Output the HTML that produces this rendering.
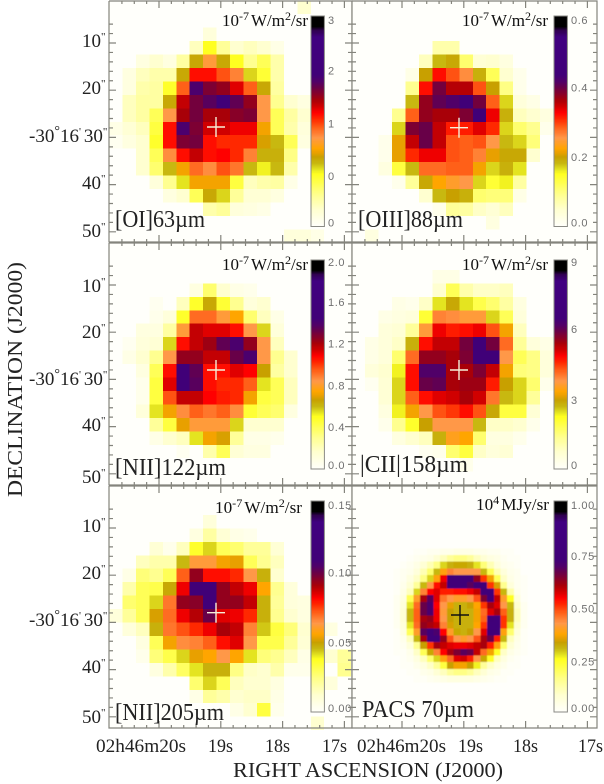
<!DOCTYPE html>
<html>
<head>
<meta charset="utf-8">
<title>Line and continuum maps</title>
<style>
html,body{margin:0;padding:0;background:#fff;width:604px;height:784px;overflow:hidden}
svg{display:block}
text{font-family:"Liberation Serif",serif;fill:#222}
.tick{font-size:19px}
.bar{font-family:"Liberation Sans",sans-serif;font-size:11px;fill:#707070;letter-spacing:.6px}
.unit{font-size:17px;fill:#111}
.name{font-size:24px;fill:#222}
.title{font-size:21px}
</style>
</head>
<body>
<svg id="chart" xmlns="http://www.w3.org/2000/svg" width="604" height="784" viewBox="0 0 604 784">
<defs><filter id="soft" x="-5%" y="-5%" width="110%" height="110%"><feGaussianBlur stdDeviation="0.6"/></filter></defs>
<rect x="0" y="0" width="604" height="784" fill="#ffffff"/>
<g id="maps"></g>

<g>
<text class="tick" x="82" y="47">10<tspan dy="-7" font-size="11">"</tspan></text>
<text class="tick" x="82" y="94">20<tspan dy="-7" font-size="11">"</tspan></text>
<text class="tick" x="29" y="142">-30<tspan dy="-7" font-size="14">°</tspan><tspan dy="7">16</tspan><tspan dy="-7" font-size="11">'</tspan><tspan dy="7" dx="3">30</tspan><tspan dy="-7" font-size="11">"</tspan></text>
<text class="tick" x="82" y="189">40<tspan dy="-7" font-size="11">"</tspan></text>
<text class="tick" x="82" y="237">50<tspan dy="-7" font-size="11">"</tspan></text>

<text class="tick" x="82" y="292">10<tspan dy="-7" font-size="11">"</tspan></text>
<text class="tick" x="82" y="338">20<tspan dy="-7" font-size="11">"</tspan></text>
<text class="tick" x="29" y="385">-30<tspan dy="-7" font-size="14">°</tspan><tspan dy="7">16</tspan><tspan dy="-7" font-size="11">'</tspan><tspan dy="7" dx="3">30</tspan><tspan dy="-7" font-size="11">"</tspan></text>
<text class="tick" x="82" y="431">40<tspan dy="-7" font-size="11">"</tspan></text>
<text class="tick" x="82" y="483">50<tspan dy="-7" font-size="11">"</tspan></text>

<text class="tick" x="82" y="532">10<tspan dy="-7" font-size="11">"</tspan></text>
<text class="tick" x="82" y="579">20<tspan dy="-7" font-size="11">"</tspan></text>
<text class="tick" x="29" y="626">-30<tspan dy="-7" font-size="14">°</tspan><tspan dy="7">16</tspan><tspan dy="-7" font-size="11">'</tspan><tspan dy="7" dx="3">30</tspan><tspan dy="-7" font-size="11">"</tspan></text>
<text class="tick" x="82" y="673">40<tspan dy="-7" font-size="11">"</tspan></text>
<text class="tick" x="82" y="723">50<tspan dy="-7" font-size="11">"</tspan></text>
</g>

<g>
<text class="tick" x="96" y="752" textLength="90" lengthAdjust="spacingAndGlyphs">02h46m20s</text>
<text class="tick" x="208" y="752" textLength="25" lengthAdjust="spacingAndGlyphs">19s</text>
<text class="tick" x="265" y="752" textLength="25" lengthAdjust="spacingAndGlyphs">18s</text>
<text class="tick" x="322" y="752" textLength="25" lengthAdjust="spacingAndGlyphs">17s</text>
<text class="tick" x="357" y="752" textLength="89" lengthAdjust="spacingAndGlyphs">02h46m20s</text>
<text class="tick" x="458" y="752" textLength="25" lengthAdjust="spacingAndGlyphs">19s</text>
<text class="tick" x="513" y="752" textLength="25" lengthAdjust="spacingAndGlyphs">18s</text>
<text class="tick" x="578" y="752" textLength="25" lengthAdjust="spacingAndGlyphs">17s</text>
</g>

<text class="title" x="233" y="777" textLength="270" lengthAdjust="spacingAndGlyphs">RIGHT ASCENSION (J2000)</text>
<text class="title" transform="translate(22 497) rotate(-90)" x="0" y="0" textLength="235" lengthAdjust="spacingAndGlyphs">DECLINATION (J2000)</text>
</svg>

<script>
const oiValues = [
[0,0,0,0,0,0,0,0,0,0,0,0,0,0,8,0,0,0],
[0,0,0,0,0,0,0,0,0,0,0,0,0,0,0,0,0,0],
[0,0,0,0,0,0,0,6,0,0,0,0,0,0,0,0,0,0],
[0,0,0,0,0,0,10,25,14,8,10,8,4,0,0,0,0,0],
[0,0,5,8,5,13,32,41,32,25,15,20,12,0,0,0,0,0],
[0,5,10,12,12,32,53,53,48,44,28,23,12,0,0,0,0,0],
[0,5,12,13,24,47,70,64,62,56,47,32,13,0,0,0,0,0],
[0,10,13,13,32,58,65,68,72,67,62,42,15,8,5,0,0,0],
[0,10,13,20,42,60,65,60,60,63,64,42,20,13,8,0,0,0],
[4,7,10,22,53,70,64,57,57,55,55,36,20,12,6,0,0,0],
[2,5,8,24,53,64,65,53,51,51,51,34,30,20,5,0,0,0],
[0,0,8,20,43,53,58,53,54,51,44,31,31,16,0,0,0,0],
[0,0,8,18,30,36,46,43,48,45,30,26,30,12,0,0,0,0],
[0,0,0,6,15,27,36,36,36,22,10,12,13,4,0,0,0,0],
[0,0,0,0,5,8,20,32,28,14,7,7,5,0,0,0,0,0],
[0,0,0,0,0,0,0,12,14,6,5,4,0,0,0,0,0,0],
[0,0,0,0,0,0,0,0,0,0,0,0,0,0,0,0,0,0],
[0,0,0,0,0,0,0,0,0,0,0,0,0,6,6,4,0,0]
];
const oiiiValues = [
[0,0,0,0,0,0,0,0,0,0,0,0,0,0,0,0,0,0],
[0,0,0,0,0,0,0,0,0,0,0,0,0,0,0,0,0,0],
[0,0,0,0,0,0,0,0,0,0,0,0,0,0,0,0,0,0],
[0,0,0,0,0,0,12,12,0,0,0,0,0,0,0,0,0,0],
[0,0,0,0,0,10,30,32,18,7,8,5,0,0,0,0,0,0],
[0,0,0,0,4,33,53,48,43,31,20,8,3,0,0,0,0,0],
[0,0,0,0,15,53,65,59,59,48,33,16,3,0,0,0,0,0],
[0,0,0,0,30,62,67,69,72,65,47,28,6,4,0,0,0,0],
[0,0,0,15,47,62,60,60,64,72,55,31,10,8,5,0,0,0],
[0,0,0,28,64,66,58,52,52,56,51,28,18,15,3,0,0,0],
[0,0,3,35,58,66,58,48,47,48,42,30,28,17,0,0,0,0],
[0,0,3,35,51,55,55,48,47,44,35,32,32,8,0,0,0,0],
[0,0,5,22,30,46,46,47,47,36,28,31,27,0,0,0,0,0],
[0,0,0,3,14,32,37,40,42,28,23,26,13,0,0,0,0,0],
[0,0,0,0,0,8,30,33,31,18,17,17,4,0,0,0,0,0],
[0,0,0,0,0,0,3,14,13,9,7,10,0,0,0,0,0,0],
[0,0,0,0,0,0,0,0,0,0,5,0,0,0,0,0,0,0],
[0,5,0,0,0,0,0,0,0,0,0,0,0,0,0,0,0,0]
];
const nii122Values = [
[0,0,0,0,0,0,0,0,0,0,0,0,0,0,0,0,0,0],
[0,0,0,0,0,0,0,0,0,0,0,0,0,0,0,0,0,0],
[0,0,0,0,0,0,0,0,0,0,0,0,0,0,0,0,0,0],
[0,0,0,0,0,0,5,18,8,4,3,0,0,0,0,0,0,0],
[0,0,0,2,0,10,24,32,23,15,6,8,0,0,0,0,0,0],
[0,0,0,3,6,24,46,46,41,37,18,10,4,0,0,0,0,0],
[0,0,5,5,13,41,58,56,56,53,42,28,6,0,0,0,0,0],
[0,2,6,7,28,53,58,61,67,70,62,42,10,0,0,0,0,0],
[0,4,8,15,42,62,62,58,58,66,70,42,15,8,0,0,0,0],
[0,0,5,20,53,72,67,53,53,56,54,33,13,8,0,0,0,0],
[0,0,3,22,56,72,68,53,51,51,47,27,20,10,0,0,0,0],
[0,0,3,22,48,58,58,54,52,51,36,22,20,10,0,0,0,0],
[0,0,6,27,36,43,47,45,47,43,23,20,18,5,0,0,0,0],
[0,0,0,14,22,35,41,41,41,28,8,8,8,0,0,0,0,0],
[0,0,0,4,8,10,27,36,34,14,4,4,3,0,0,0,0,0],
[0,0,0,0,0,2,0,12,20,7,5,5,0,0,0,0,0,0],
[0,0,0,0,0,0,0,0,0,0,0,0,0,0,0,0,0,0],
[0,0,0,0,0,0,0,0,0,0,0,0,0,0,0,0,0,0]
];
const ciiValues = [
[0,0,0,0,0,0,0,0,0,0,0,0,0,0,0,0,0,0],
[0,0,0,0,0,0,0,0,0,0,0,0,0,0,0,0,0,0],
[0,0,0,0,0,0,4,4,0,0,0,0,0,0,0,0,0,0],
[0,0,0,0,0,0,8,20,12,9,9,10,0,0,0,0,0,0],
[0,0,0,4,3,9,27,32,27,21,18,13,5,0,0,0,0,0],
[0,0,4,5,6,23,44,43,41,41,28,20,6,0,0,0,0,0],
[0,0,6,7,14,41,55,52,53,55,48,36,10,0,0,0,0,0],
[0,4,6,9,31,53,58,58,65,72,65,46,14,6,4,0,0,0],
[0,4,6,18,46,62,62,60,64,72,72,42,20,16,6,0,0,0],
[0,6,8,26,53,69,69,60,60,64,58,36,17,16,6,0,0,0],
[0,2,7,28,53,66,67,60,61,61,52,33,28,18,3,0,0,0],
[0,0,7,28,47,53,56,57,60,57,45,30,28,14,0,0,0,0],
[0,0,5,26,36,42,48,50,53,48,32,22,22,7,0,0,0,0],
[0,0,3,15,24,33,42,42,42,30,9,9,8,3,0,0,0,0],
[0,0,0,5,8,10,31,39,37,18,5,5,3,0,0,0,0,0],
[0,0,0,0,0,2,3,18,22,9,6,7,0,0,0,0,0,0],
[0,0,0,0,0,0,0,0,3,0,0,0,0,0,0,0,0,0],
[0,0,0,0,0,0,0,0,0,0,0,0,0,0,0,0,0,0]
];
const nii205Values = [
[0,0,0,0,0,0,0,0,0,0,0,0,0,0,0,0,0,0],
[0,0,0,0,0,0,0,0,0,0,0,0,0,0,0,0,0,0],
[0,0,0,0,0,0,0,6,0,0,0,0,0,0,0,0,0,0],
[0,0,0,0,0,0,5,13,7,4,3,0,0,0,0,0,0,0],
[0,0,0,7,3,10,24,28,20,18,14,14,7,0,0,0,0,0],
[0,0,10,12,12,30,41,41,36,35,20,15,10,0,0,0,0,0],
[0,4,17,15,20,47,62,53,53,51,42,31,8,0,0,0,0,0],
[0,12,20,21,32,55,72,72,62,58,55,37,15,6,0,0,0,0],
[0,18,20,28,45,62,63,72,62,62,58,31,14,6,5,0,0,0],
[6,14,20,34,46,55,59,66,56,55,51,31,15,8,5,0,0,0],
[0,6,10,31,45,48,51,55,60,58,44,29,22,17,8,0,5,0],
[0,0,5,20,36,43,44,47,53,56,42,21,21,14,7,0,0,0],
[0,0,3,17,21,28,35,37,42,37,27,17,15,10,4,0,8,14],
[0,0,0,5,12,19,27,31,31,16,9,8,12,3,3,0,0,15],
[0,0,0,0,0,0,18,28,20,10,8,8,5,0,0,0,6,0],
[0,0,0,0,0,0,4,14,12,8,9,9,4,0,0,0,0,0],
[0,0,0,0,0,0,0,0,0,4,8,22,3,0,0,0,0,0],
[0,0,0,0,0,0,0,0,0,0,0,0,0,0,0,8,0,0]
];
const pacsValues = [
[0,0,0,1,1,2,2,3,3,4,4,4,3,3,2,2,1,1,0,0],
[0,0,1,2,3,4,7,10,14,16,16,14,10,7,5,4,2,1,1,0],
[0,1,2,4,7,11,16,28,31,32,32,31,27,17,11,6,3,2,1,0],
[1,2,3,6,11,18,30,38,44,42,42,42,42,30,20,11,6,3,2,0],
[1,2,5,9,16,28,38,55,74,74,74,72,62,50,36,20,9,4,2,1],
[1,3,7,14,30,42,53,58,74,74,72,68,72,72,50,34,15,6,2,1],
[1,4,10,28,44,54,56,52,52,53,53,55,58,74,74,50,30,12,3,1],
[2,5,20,40,60,68,56,45,42,40,40,42,48,64,74,58,40,25,6,1],
[2,6,27,46,66,70,54,42,35,31,31,33,37,50,60,56,42,30,8,2],
[2,7,30,47,66,70,55,41,33,31,31,31,36,46,56,60,47,31,10,2],
[2,7,30,47,60,62,55,42,33,31,31,31,36,47,72,76,50,31,10,2],
[2,6,27,46,62,60,58,44,34,31,31,31,37,50,76,76,50,27,8,2],
[1,5,20,40,68,74,70,54,40,32,31,33,42,56,74,74,38,18,6,1],
[1,3,10,30,60,76,76,62,48,42,40,42,48,60,66,52,30,10,4,1],
[1,2,6,15,33,50,60,58,56,55,55,56,58,60,52,38,18,7,3,1],
[1,1,3,9,20,32,44,54,60,64,68,66,58,46,36,24,9,4,2,1],
[0,1,2,5,10,18,28,38,46,56,57,52,42,32,24,10,5,2,1,0],
[0,1,1,3,5,9,14,22,33,36,36,33,26,14,9,5,3,1,1,0],
[0,0,1,1,3,4,7,10,14,16,16,14,10,7,4,3,1,1,0,0],
[0,0,0,1,1,2,3,4,5,5,5,5,4,3,2,1,1,0,0,0]
];
const oiBarLabels = ["3","2","1","0","0"];
const oiiiBarLabels = ["0.6","0.4","0.2","0.0"];
const nii122BarLabels = ["2.0","1.6","1.2","0.8","0.4","0.0"];
const ciiBarLabels = ["9","6","3","0"];
const nii205BarLabels = ["0.15","0.10","0.05","0.00"];
const pacsBarLabels = ["1.00","0.75","0.50","0.25","0.00"];
const oiBarTicks = [98,74,49,24,2];
const oiiiBarTicks = [98,66,33,2];
const nii122BarTicks = [99,80,60,40,20,2];
const ciiBarTicks = [99,67,33,2];
const nii205BarTicks = [98,66,33,2];
const pacsBarTicks = [98,74,49,24,2];
const decTicks = [10,12,14,16,18,20,22,24,26,28,30,32,34,36,38,40,42,44,46,48,50];
const raTicks = [20.6,20.4,20.2,20,19.8,19.6,19.4,19.2,19,18.8,18.6,18.4,18.2,18,17.8,17.6,17.4,17.2,17];

const NS = 'http://www.w3.org/2000/svg';
const root = document.getElementById('maps');
const cmapStops = [
[0,'#fffffb'],[8,'#ffffd0'],[15,'#ffff90'],[22,'#ffff40'],[25,'#ffff20'],[27,'#e4e420'],
[30,'#c8b810'],[33,'#c8a000'],[35,'#e8a000'],[37,'#ffa500'],[42,'#ff9848'],[47,'#ff6018'],
[51,'#ff2800'],[54,'#ff0000'],[57,'#d00000'],[60,'#a80008'],[63,'#880028'],[66,'#680048'],
[69,'#500068'],[72,'#400078'],[90,'#400080'],[93,'#300050'],[95,'#000000'],[100,'#000000']
];
function hex(c){return [parseInt(c.slice(1,3),16),parseInt(c.slice(3,5),16),parseInt(c.slice(5,7),16)];}
function cmap(v){
  for(let i=1;i<cmapStops.length;i++){
    if(v<=cmapStops[i][0]){
      const a=cmapStops[i-1],b=cmapStops[i],t=(v-a[0])/(b[0]-a[0]);
      const ca=hex(a[1]),cb=hex(b[1]);
      return 'rgb('+ca.map((x,k)=>Math.round(x+(cb[k]-x)*t)).join(',')+')';
    }
  }
  return '#000';
}
function mk(tag,attrs,parent){
  const e=document.createElementNS(NS,tag);
  for(const k in attrs)e.setAttribute(k,attrs[k]);
  parent.appendChild(e);
  return e;
}
const panels=[
 {key:'oi',values:oiValues,barLabels:oiBarLabels,barTicks:oiBarTicks,left:109,right:352,top:1,bottom:242,gridY:0.7,gridX:109,cell:13.45,barX:311,barY0:16,barY1:226.5,dec10:43,raX:159,cross:[216,127,'#f6f0d8']},
 {key:'oiii',values:oiiiValues,barLabels:oiiiBarLabels,barTicks:oiiiBarTicks,left:352,right:597,top:1,bottom:242,gridY:0.7,gridX:351.7,cell:13.45,barX:554,barY0:16,barY1:226.5,dec10:43,raX:402,cross:[459,127.7,'#f6f0d8']},
 {key:'nii122',values:nii122Values,barLabels:nii122BarLabels,barTicks:nii122BarTicks,left:109,right:352,top:243,bottom:485,gridY:243,gridX:109,cell:13.45,barX:311,barY0:260,barY1:469,dec10:285,raX:159,cross:[216,370,'#f6f0d8']},
 {key:'cii',values:ciiValues,barLabels:ciiBarLabels,barTicks:ciiBarTicks,left:352,right:597,top:243,bottom:485,gridY:243,gridX:351.7,cell:13.45,barX:554,barY0:260,barY1:469,dec10:285,raX:402,cross:[459,370,'#f6f0d8']},
 {key:'nii205',values:nii205Values,barLabels:nii205BarLabels,barTicks:nii205BarTicks,left:109,right:352,top:486,bottom:728,gridY:488,gridX:109,cell:13.45,barX:311,barY0:501,barY1:712,dec10:528,raX:159,cross:[216,612.7,'#f6f0d8']},
 {key:'pacs',values:pacsValues,barLabels:pacsBarLabels,barTicks:pacsBarTicks,left:352,right:597,top:486,bottom:728,gridY:548.3,gridX:393.3,cell:6.7,barX:554,barY0:501,barY1:712,dec10:528,raX:402,cross:[460,615,'#111111'],soft:true}
];
const unitLabels={
 oi:{x:222,y:26,w:86,exp:'-7',rest:'W/m',sq:'2',tail:'/sr'},
 oiii:{x:462,y:26,w:86,exp:'-7',rest:'W/m',sq:'2',tail:'/sr'},
 nii122:{x:222,y:270,w:86,exp:'-7',rest:'W/m',sq:'2',tail:'/sr'},
 cii:{x:462,y:270,w:86,exp:'-7',rest:'W/m',sq:'2',tail:'/sr'},
 nii205:{x:215,y:513,w:87,exp:'-7',rest:'W/m',sq:'2',tail:'/sr'},
 pacs:{x:476,y:510,w:73,exp:'4',rest:'MJy/sr',sq:'',tail:''}
};
const nameLabels={
 oi:{t:'[OI]63µm',x:115,y:227,w:90},
 oiii:{t:'[OIII]88µm',x:358,y:227,w:105},
 nii122:{t:'[NII]122µm',x:115,y:475,w:111},
 cii:{t:'|CII|158µm',x:360,y:472,w:108},
 nii205:{t:'[NII]205µm',x:115,y:720,w:109},
 pacs:{t:'PACS 70µm',x:362,y:717,w:112}
};
function decY(p,dec){return p.dec10+(dec-10)*4.72;}
function raX(p,ra){return p.raX+(20-ra)*61.8;}
function cellX(p,c){return p.gridX+c*p.cell;}
function cellY(p,r){return p.gridY+r*p.cell;}
function barY(p,pct){return p.barY1-(p.barY1-p.barY0)*pct/100;}

panels.forEach(function(p){
  const g=mk('g',{},root);
  
  
  const bg=mk('rect',{x:p.left,y:p.top,width:p.right-p.left,height:p.bottom-p.top,fill:'#fffffb'},g);
  
  

  const cells=mk('g',{'shape-rendering':'crispEdges'},g);
  
  
  if(p.soft)cells.setAttribute('filter','url(#soft)');
  p.values.forEach(function(row,r){
    row.forEach(function(v,c){
      if(v<=0)return;
      const cell=mk('rect',{x:cellX(p,c),y:cellY(p,r),width:p.cell,height:p.cell,fill:cmap(v)},cells);
      
      
    });
  });

  const bar=mk('g',{'shape-rendering':'crispEdges'},g);
  
  
  for(let i=0;i<200;i++){
    const y0=barY(p,(i+1)/2),y1=barY(p,i/2);
    const seg=mk('rect',{x:p.barX,y:y0,width:13.4,height:y1-y0+0.5,fill:cmap(i/2)},bar);
    
    
  }
  const frame=mk('rect',{x:p.barX,y:p.barY0,width:13.4,height:p.barY1-p.barY0,fill:'none',stroke:'#8a8a84','stroke-width':1},g);
  
  
  p.barLabels.forEach(function(t,i){
    const y=barY(p,p.barTicks[i]);
    const lbl=mk('text',{x:p.barX+17,y:y+4,'class':'bar'},g);
    lbl.textContent=t;
    
    
  });

  const cross=mk('path',{d:'M'+(p.cross[0]-9)+' '+p.cross[1]+'H'+(p.cross[0]+9)+'M'+p.cross[0]+' '+(p.cross[1]-10)+'V'+(p.cross[1]+10),stroke:p.cross[2],'stroke-width':1.4,fill:'none'},g);
  
  

  let d='M'+p.left+' '+p.top+'V'+p.bottom+'H'+p.right+'V'+p.top+'H'+p.left;
  decTicks.forEach(function(dec,i){
    const y=decY(p,dec);
    if(y>p.bottom||y<p.top)return;
    const len=(i%5===0)?7:4;
    d+='M'+p.left+' '+y+'h'+len+'M'+p.right+' '+y+'h'+(-len);
  });
  const decTop=decY(p,8);
  if(decTop>p.top){d+='M'+p.left+' '+decTop+'h4M'+p.right+' '+decTop+'h-4';}
  const decTop2=decY(p,6);
  if(decTop2>p.top){d+='M'+p.left+' '+decTop2+'h4M'+p.right+' '+decTop2+'h-4';}
  raTicks.forEach(function(ra){
    const x=raX(p,ra);
    if(x>p.right||x<p.left)return;
    const major=Math.abs(ra-Math.round(ra))<0.001;
    const len=major?7:3;
    d+='M'+x+' '+p.bottom+'v'+(-len)+'M'+x+' '+p.top+'v'+len;
  });
  const axes=mk('path',{d:d,stroke:'#84847c','stroke-width':1.2,fill:'none'},g);
  
  

  const u=unitLabels[p.key];
  const ut=mk('text',{x:u.x,y:u.y,'class':'unit',textLength:u.w,lengthAdjust:'spacingAndGlyphs'},g);
  
  
  ut.appendChild(document.createTextNode('10'));
  const s1=mk('tspan',{dy:-6,'font-size':12},ut); s1.textContent=u.exp;
  const s2=mk('tspan',{dy:6,dx:2},ut); s2.textContent=u.rest;
  if(u.sq){
    const s3=mk('tspan',{dy:-6,'font-size':12},ut); s3.textContent=u.sq;
    const s4=mk('tspan',{dy:6},ut); s4.textContent=u.tail;
  }
  const n=nameLabels[p.key];
  const nt=mk('text',{x:n.x,y:n.y,'class':'name',textLength:n.w,lengthAdjust:'spacingAndGlyphs'},g);
  nt.textContent=n.t;
  
  
});
</script>
</body>
</html>
